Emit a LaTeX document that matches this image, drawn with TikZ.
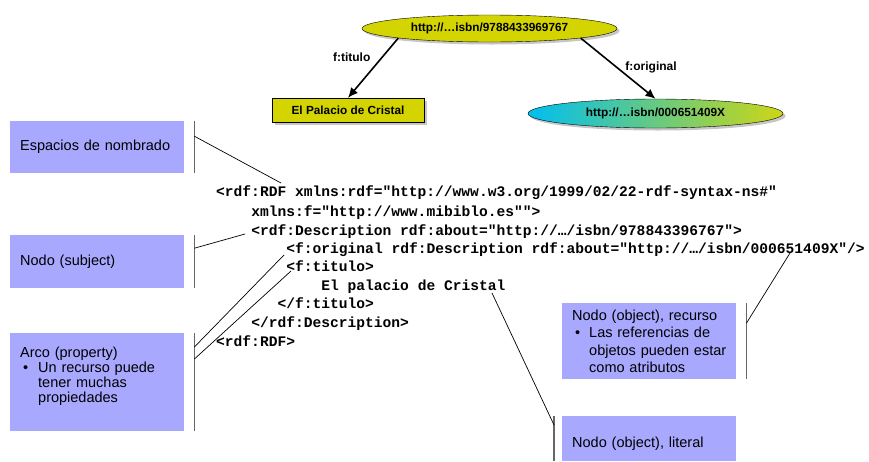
\documentclass[tikz,border=0pt]{standalone}
\usepackage{fontspec}
\setmainfont{Liberation Sans}
\newfontfamily\codefont{Liberation Mono}
\usetikzlibrary{arrows.meta,positioning,shapes.geometric,shadows}

\definecolor{uriyellow}{RGB}{212,212,0}
\definecolor{noteblue}{RGB}{168,168,255}
\definecolor{origleft}{RGB}{0,190,240}
\definecolor{origright}{RGB}{205,214,20}

\tikzset{
  uri/.style={ellipse, draw=black, thin, minimum width=255pt, inner sep=0pt,
    font=\bfseries\fontsize{11.8}{14}\selectfont,
    drop shadow={shadow xshift=2.5pt, shadow yshift=-2.5pt, opacity=.45}},
  litbox/.style={rectangle, draw=black, thin, fill=uriyellow, minimum width=152pt,
    minimum height=24pt, inner sep=0pt, font=\bfseries\fontsize{11.8}{14}\selectfont,
    drop shadow={shadow xshift=2.5pt, shadow yshift=-2.5pt, opacity=.45}},
  rel/.style={line width=1.6pt, -{Latex[length=10pt,width=9pt]}},
  relname/.style={inner sep=0pt, font=\bfseries\fontsize{12}{14}\selectfont},
  code/.style={anchor=base west, inner sep=0pt, font=\codefont\bfseries\fontsize{14.6}{18}\selectfont},
  note/.style={anchor=north west, fill=noteblue, text width=154pt, inner xsep=10pt,
    inner ysep=0pt, align=left, font=\fontsize{14.5}{15}\selectfont},
  notetext/.style={anchor=north west, inner sep=0pt, text width=160pt, align=left,
    font=\fontsize{14.5}{15}\selectfont},
  bar/.style={draw=black!60, line width=1.8pt},
  lead/.style={draw=black, line width=.7pt}
}

\begin{document}
\begin{tikzpicture}[x=1pt, y=-1pt]
  \useasboundingbox (0,0) rectangle (869,461);

  % graph
  \node (book) [uri, fill=uriyellow, minimum height=27pt] at (489.5,28.5) {http://…isbn/9788433969767};
  \node (title) [litbox] at (348,110) {El Palacio de Cristal};
  \node (orig) [uri, left color=origleft, right color=origright, minimum height=29pt] at (655.5,113.5) {http://…isbn/000651409X};

  \draw[rel] (book.186) -- node[relname, left=11pt, pos=.32] {f:titulo} (title.north);
  \draw[rel] (book.354) -- node[relname, right=8pt, pos=.48] {f:original} (orig.north);

  % RDF/XML
  \node (rdfopen) [code] at (216,196.5) {<rdf:RDF xmlns:rdf="http://www.w3.org/1999/02/22-rdf-syntax-ns\#"};
  \node (nsline) [code] at (251.1,216.5) {xmlns:f="http://www.mibiblo.es"">};
  \node (descopen) [code] at (251.1,235.5) {<rdf:Description rdf:about="http://…/isbn/978843396767">};
  \node (origline) [code] at (286.2,253.5) {<f:original rdf:Description rdf:about="http://…/isbn/000651409X"/>};
  \node (tituloopen) [code] at (286.2,271.5) {<f:titulo>};
  \node (titulotext) [code] at (321.2,290.5) {El palacio de Cristal};
  \node (tituloclose) [code] at (277.4,308.5) {</f:titulo>};
  \node (descclose) [code] at (251.1,327.5) {</rdf:Description>};
  \node (rdfclose) [code] at (216,346.5) {<rdf:RDF>};

  \coordinate (nsend) at (281,183);
  \coordinate (subjend) at (245,234);
  \coordinate (origend) at (284,255);
  \coordinate (tituloend) at (291,271);
  \coordinate (resend) at (790,253);
  \coordinate (litend) at (492,293);

  % notes
  \node (ns) [note, minimum height=52pt] at (10,121) {Espacios de nombrado};
  \node (subj) [note, minimum height=53pt] at (10,235) {Nodo (subject)};
  \node (arc) [note, minimum height=98pt] at (10,333) {};
  \node (arctext) [notetext] at (20,347) {\mbox{Arco (property)}\\
    \mbox{\makebox[18pt][l]{\hspace{3pt}\textbullet}Un recurso puede}\\
    \mbox{\hspace*{18pt}tener muchas}\\
    \mbox{\hspace*{18pt}propiedades}};
  \node (res) [note, minimum height=76pt, font=\fontsize{14.5}{17.5}\selectfont] at (562,303) {\mbox{Nodo (object), recurso}\\
    \mbox{\makebox[17pt][l]{\hspace{3pt}\textbullet}Las referencias de}\\
    \mbox{\hspace*{17pt}objetos pueden estar}\\
    \mbox{\hspace*{17pt}como atributos}};
  \node (lit) [note, minimum height=45pt] at (562,416) {};
  \node (littext) [notetext, anchor=west] at (572,444) {Nodo (object), literal};

  \draw[bar] ([xshift=10pt]ns.north east) -- ([xshift=10pt]ns.south east);
  \draw[bar] ([xshift=10pt]subj.north east) -- ([xshift=10pt]subj.south east);
  \draw[bar] ([xshift=10pt]arc.north east) -- ([xshift=10pt]arc.south east);
  \draw[bar] ([xshift=10pt]res.north east) -- ([xshift=10pt]res.south east);
  \draw[bar] ([xshift=-8pt]lit.north west) -- ([xshift=-8pt]lit.south west);

  \draw[lead] ([xshift=10pt,yshift=11pt]ns.east) -- (nsend);
  \draw[lead] ([xshift=10pt,yshift=13.5pt]subj.east) -- (subjend);
  \draw[lead] ([xshift=10pt,yshift=-14pt]arc.north east) -- (origend);
  \draw[lead] ([xshift=10pt,yshift=-26pt]arc.north east) -- (tituloend);
  \draw[lead] ([xshift=10pt,yshift=18pt]res.east) -- (resend);
  \draw[lead] ([xshift=-8pt,yshift=-9pt]lit.north west) -- (litend);
\end{tikzpicture}
\end{document}
